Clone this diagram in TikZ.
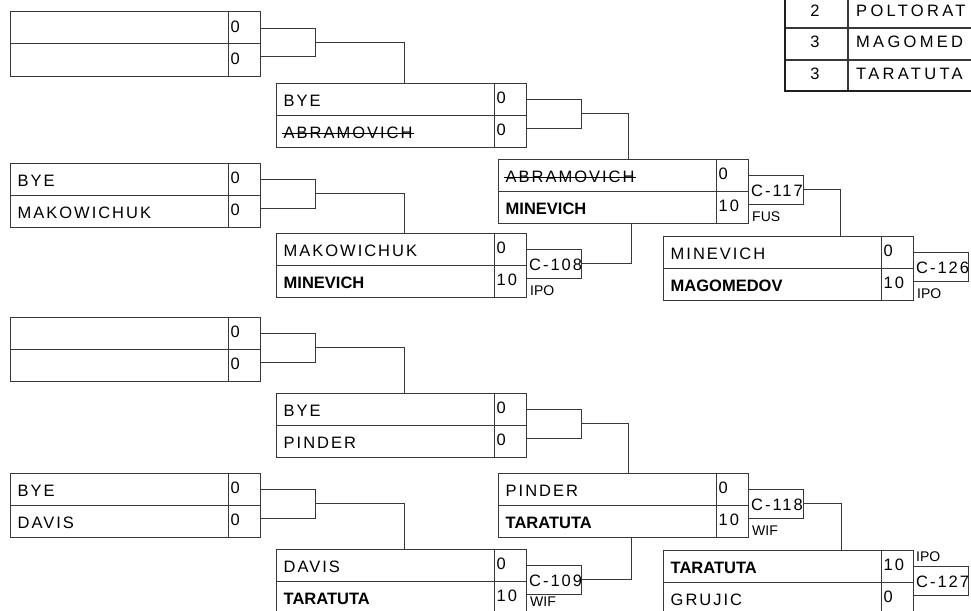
\documentclass[tikz,border=0pt]{standalone}
\usepackage{fontspec}
\setmainfont{Liberation Sans}
\newfontfamily\spfont[LetterSpace=12]{Liberation Sans}
\newfontfamily\tbspfont[LetterSpace=20]{Liberation Sans}
\usetikzlibrary{calc}
\newcommand\nmfont{\spfont\fontsize{16.5pt}{18pt}\selectfont}
\newcommand\tbfont{\tbspfont\fontsize{16.5pt}{18pt}\selectfont}
\newcommand\smfont{\rmfamily\fontsize{14pt}{15pt}\selectfont}
\newcommand\win[1]{{\rmfamily\bfseries #1}}
\newcommand\strikeout[1]{\setbox0\hbox{#1}\leavevmode\rlap{\kern-2pt\rule[0.3em]{\dimexpr\wd0+4pt\relax}{0.9pt}}\box0}
\tikzset{
  ln/.style={draw=black!78, line width=1pt},
  mbox/.style={ln, rectangle, minimum width=250pt, minimum height=64pt, inner sep=0pt, outer sep=0pt},
  brk/.style={ln, rectangle, minimum width=55.5pt, minimum height=28.5pt, inner sep=0pt, outer sep=0pt, anchor=north west},
  nm/.style={anchor=base west, inner sep=0pt, font=\nmfont},
  tb/.style={anchor=base west, inner sep=0pt, font=\tbfont},
  sm/.style={anchor=base west, inner sep=0pt, font=\smfont},
}
\newcommand\matchbox[7]{%
  \node[mbox, anchor=north west] (#1) at (#2,#3) {};
  \draw[ln] (#1.west) -- (#1.east);
  \draw[ln] ([xshift=218pt]#1.north west) -- ([xshift=218pt]#1.south west);
  \node[nm] (#1t) at ([xshift=7.5pt,yshift=-23.5pt]#1.north west) {#4};
  \node[nm] (#1ts) at ([xshift=220.5pt,yshift=-20.5pt]#1.north west) {#5};
  \node[nm] (#1b) at ([xshift=7.5pt,yshift=-55.5pt]#1.north west) {#6};
  \node[nm] (#1bs) at ([xshift=220.5pt,yshift=-52.5pt]#1.north west) {#7};
}
\newcommand\bracketbox[3]{%
  \node[brk] (#1) at ([yshift=-16.5pt]#2.north east) {};
  \node[nm] (#1l) at ([xshift=3pt,yshift=-21pt]#1.north west) {#3};
}
\begin{document}
\begin{tikzpicture}[x=1pt,y=-1pt]
\useasboundingbox (0,0) rectangle (971,610);
\clip (0,0) rectangle (971,610);
% matches
\matchbox{A1}{10}{12}{}{0}{}{0}
\matchbox{A2}{276}{83}{BYE}{0}{\strikeout{ABRAMOVICH}}{0}
\matchbox{B1}{10}{163}{BYE}{0}{MAKOWICHUK}{0}
\matchbox{B2}{276}{233}{MAKOWICHUK}{0}{\win{MINEVICH}}{10}
\matchbox{A3}{498}{159}{\strikeout{ABRAMOVICH}}{0}{\win{MINEVICH}}{10}
\matchbox{A4}{663}{236}{MINEVICH}{0}{\win{MAGOMEDOV}}{10}
\matchbox{C1}{10}{317}{}{0}{}{0}
\matchbox{C2}{276}{393}{BYE}{0}{PINDER}{0}
\matchbox{D1}{10}{473}{BYE}{0}{DAVIS}{0}
\matchbox{D2}{276}{549}{DAVIS}{0}{\win{TARATUTA}}{10}
\matchbox{C3}{498}{473}{PINDER}{0}{\win{TARATUTA}}{10}
\matchbox{C4}{663}{550}{\win{TARATUTA}}{10}{GRUJIC}{0}
% brackets
\bracketbox{bA1}{A1}{}
\bracketbox{bB1}{B1}{}
\bracketbox{bC1}{C1}{}
\bracketbox{bD1}{D1}{}
\bracketbox{bA2}{A2}{}
\bracketbox{bC2}{C2}{}
\bracketbox{bB2}{B2}{C-108}
\bracketbox{bD2}{D2}{C-109}
\bracketbox{bA3}{A3}{C-117}
\bracketbox{bC3}{C3}{C-118}
\bracketbox{bA4}{A4}{C-126}
\bracketbox{bC4}{C4}{C-127}
% small labels
\node[sm] (sB2) at ([xshift=4pt,yshift=-17pt]bB2.south west) {IPO};
\node[sm] (sD2) at ([xshift=4pt,yshift=-12.5pt]bD2.south west) {WIF};
\node[sm] (sA3) at ([xshift=4pt,yshift=-17pt]bA3.south west) {FUS};
\node[sm] (sC3) at ([xshift=4pt,yshift=-17pt]bC3.south west) {WIF};
\node[sm] (sA4) at ([xshift=4pt,yshift=-17pt]bA4.south west) {IPO};
\node[sm] (sC4) at ([xshift=3pt,yshift=5pt]bC4.north west) {IPO};
% connectors
\draw[ln] (bA1.east) -| ([xshift=128pt]A2.north west);
\draw[ln] (bB1.east) -| ([xshift=128pt]B2.north west);
\draw[ln] (bC1.east) -| ([xshift=128pt]C2.north west);
\draw[ln] (bD1.east) -| ([xshift=128pt]D2.north west);
\draw[ln] (bA2.east) -| ([xshift=130pt]A3.north west);
\draw[ln] (bC2.east) -| ([xshift=130pt]C3.north west);
\draw[ln] (bB2.east) -| ([xshift=133pt]A3.south west);
\draw[ln] (bD2.east) -| ([xshift=133pt]C3.south west);
\draw[ln] (bA3.east) -| ([xshift=177pt]A4.north west);
\draw[ln] (bC3.east) -| ([xshift=178pt]C4.north west);
% standings table
\draw[draw=black!78, line width=1.6pt] (785,28) -- (975,28) (785,60) -- (975,60);
\draw[draw=black!78, line width=1.3pt] (848,-5) -- (848,91);
\draw[draw=black!88, line width=2.8pt] (785,-5) -- (785,91) -- (975,91);
\node[nm, anchor=base] (r1) at (815,17) {2};
\node[nm, anchor=base] (r2) at (815,48) {3};
\node[nm, anchor=base] (r3) at (815,79) {3};
\node[tb] (p1) at (856,17) {POLTORAT};
\node[tb] (p2) at (856,48) {MAGOMED};
\node[tb] (p3) at (856,79) {TARATUTA};
\end{tikzpicture}
\end{document}
